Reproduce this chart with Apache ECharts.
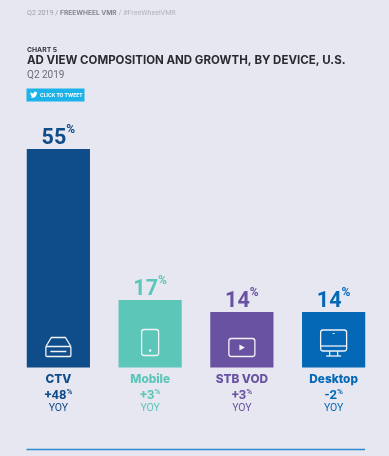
<!DOCTYPE html>
<html><head><meta charset="utf-8">
<style>html,body{margin:0;padding:0;background:#e6e7f1}#c{width:389px;height:456px}</style>
<script src="https://cdn.jsdelivr.net/npm/echarts@6/dist/echarts.min.js"></script>
</head><body><div id="c"></div>
<script>
const categories = ['CTV','Mobile','STB VOD','Desktop'];
const shares = [55,17,14,14];
const yoy = ['+48','+3','+3','-2'];
const colors = ['#0f4c8a','#5cc6b8','#6a52a2','#0468b6'];
const bg = '#e6e7f1';
const head = '"Inter","Liberation Sans",sans-serif';
const num = '"Roboto","Liberation Sans",sans-serif';
const birdPath = 'M23.95 4.57a10 10 0 0 1-2.82.77 4.96 4.96 0 0 0 2.16-2.72c-.95.56-2 .96-3.12 1.19a4.92 4.92 0 0 0-8.38 4.48A13.98 13.98 0 0 1 1.64 3.16a4.82 4.82 0 0 0-.67 2.48c0 1.71.87 3.21 2.19 4.1a4.9 4.9 0 0 1-2.23-.62v.06a4.92 4.92 0 0 0 3.95 4.83 5 5 0 0 1-2.21.08 4.94 4.94 0 0 0 4.6 3.42 9.87 9.87 0 0 1-6.1 2.1c-.39 0-.78-.02-1.17-.07a14 14 0 0 0 7.56 2.21c9.05 0 14-7.5 14-13.98 0-.21 0-.42-.02-.63a9.94 9.94 0 0 0 2.46-2.55z';

function richFor(i){
  const c = colors[i];
  return {
    ['n'+i]: {fontFamily:head,fontWeight:800,fontSize:11.8,color:c,lineHeight:16,align:'center'},
    ['y'+i]: {fontFamily:num,fontWeight:700,fontSize:13,color:c,lineHeight:15,verticalAlign:'bottom'},
    ['p'+i]: {fontFamily:num,fontWeight:700,fontSize:8,color:c,lineHeight:15,verticalAlign:'top'},
    ['t'+i]: {fontFamily:num,fontWeight:400,fontSize:10.5,color:c,lineHeight:11,align:'center'}
  };
}
const axisRich = Object.assign({}, ...categories.map((_,i)=>richFor(i)));
const pctRich = {};
colors.forEach((c,i)=>{
  pctRich['v'+i] = {fontFamily:num,fontWeight:700,fontSize:21.5,color:c,lineHeight:26,verticalAlign:'bottom'};
  pctRich['s'+i] = {fontFamily:num,fontWeight:700,fontSize:12,color:c,lineHeight:26,verticalAlign:'top'};
});

function stroke(){return {stroke:'#f1f3f8',lineWidth:1.3,fill:null};}
const icons = [
  (x,y)=>[
    {type:'polyline',shape:{points:[[x-12.5,y-10],[x-7,y-19],[x+7,y-19],[x+12.5,y-10]]},style:stroke()},
    {type:'rect',shape:{x:x-12.5,y:y-10,width:25,height:10,r:1},style:stroke()},
    {type:'line',shape:{x1:x-8,y1:y-5,x2:x+8,y2:y-5},style:{stroke:'#f1f3f8',lineWidth:1.5}}
  ],
  (x,y)=>[
    {type:'rect',shape:{x:x-8.5,y:y-25,width:17,height:26,r:2.5},style:stroke()},
    {type:'circle',shape:{cx:x,cy:y-4,r:1.2},style:{fill:'#f1f3f8'}}
  ],
  (x,y)=>[
    {type:'rect',shape:{x:x-13,y:y-16,width:26,height:18,r:2.5},style:stroke()},
    {type:'polygon',shape:{points:[[x-2.5,y-10],[x-2.5,y-4],[x+3,y-7]]},style:{fill:'#f1f3f8'}}
  ],
  (x,y)=>[
    {type:'rect',shape:{x:x-13,y:y-20,width:26,height:21,r:2.5},style:stroke()},
    {type:'line',shape:{x1:x-13,y1:y-4,x2:x+13,y2:y-4},style:stroke()},
    {type:'line',shape:{x1:x-4,y1:y+1,x2:x-4,y2:y+6},style:stroke()},
    {type:'line',shape:{x1:x+4,y1:y+1,x2:x+4,y2:y+6},style:stroke()},
    {type:'line',shape:{x1:x-7.5,y1:y+6,x2:x+7.5,y2:y+6},style:stroke()},
    {type:'line',shape:{x1:x-1,y1:y-16.5,x2:x+1,y2:y-16.5},style:{stroke:'#f1f3f8',lineWidth:1}}
  ]
];
const iconOffset = [-11,-13,-13,-17.5];

const chart = echarts.init(document.getElementById('c'),null,{renderer:'canvas'});
chart.setOption({
  animation:false,
  backgroundColor:bg,
  grid:{left:12.5,width:367,top:149,height:218.5,containLabel:false},
  xAxis:{type:'category',data:categories,
    axisLine:{show:false},axisTick:{show:false},
    axisLabel:{margin:4,interval:0,rich:axisRich,
      formatter:(v,i)=>`{n${i}|${v}}\n{y${i}|${yoy[i]}}{p${i}|%}\n{t${i}|YOY}`}},
  yAxis:{type:'value',min:0,max:55,show:false,splitLine:{show:false}},
  series:[
    {type:'bar',barWidth:63.2,data:shares.map((v,i)=>({value:v,itemStyle:{color:colors[i]}})),
     label:{show:true,position:'top',distance:-1,rich:pctRich,
       formatter:p=>`{v${p.dataIndex}|${p.value}}{s${p.dataIndex}|%}`}},
    {type:'custom',data:categories.map((_,i)=>[i,0]),encode:{x:0,y:1},z:5,silent:true,
     renderItem:(params,api)=>{
       const i=api.value(0);const p=api.coord([i,0]);
       const kids=icons[i](p[0],p[1]+iconOffset[i]);
       if(i===0) kids.push({type:'path',shape:{pathData:birdPath,x:30,y:91.5,width:7.5,height:6.5},style:{fill:'#ffffff'}});
       return {type:'group',children:kids};
     }}
  ],
  title:[
    {left:27,top:9.5,padding:0,text:'{a|Q2 2019 / }{b|FREEWHEEL VMR}{c| / #FreeWheelVMR}',
     textStyle:{fontWeight:400,rich:{
       a:{fontFamily:num,fontSize:7.1,fontWeight:400,color:'#9a9ba6'},
       b:{fontFamily:head,fontSize:6.6,fontWeight:700,color:'#85868f'},
       c:{fontFamily:num,fontSize:7.1,fontWeight:400,color:'#b1b2bd'}}}},
    {left:27,top:46,padding:0,text:'CHART 5',textStyle:{fontFamily:head,fontSize:6.8,fontWeight:700,color:'#36373d'}},
    {left:27,top:55,padding:0,text:'AD VIEW COMPOSITION AND GROWTH, BY DEVICE, U.S.',
     textStyle:{fontFamily:head,fontSize:11.5,fontWeight:700,color:'#2a2b30'}},
    {left:27,top:70,padding:0,text:'Q2 2019',textStyle:{fontFamily:num,fontSize:10,fontWeight:400,color:'#6a6b72'}}
  ],
  graphic:[
    {type:'rect',shape:{x:26.5,y:88.5,width:58,height:13},style:{fill:'#1bb3ea'}},
    {type:'text',x:40,y:92.5,style:{text:'CLICK TO TWEET',fontFamily:head,fontSize:5,fontWeight:700,fill:'#ffffff'}},
    {type:'line',shape:{x1:26.5,y1:449.5,x2:365,y2:449.5},style:{stroke:'#3088cf',lineWidth:1.6}}
  ]
});
</script></body></html>
